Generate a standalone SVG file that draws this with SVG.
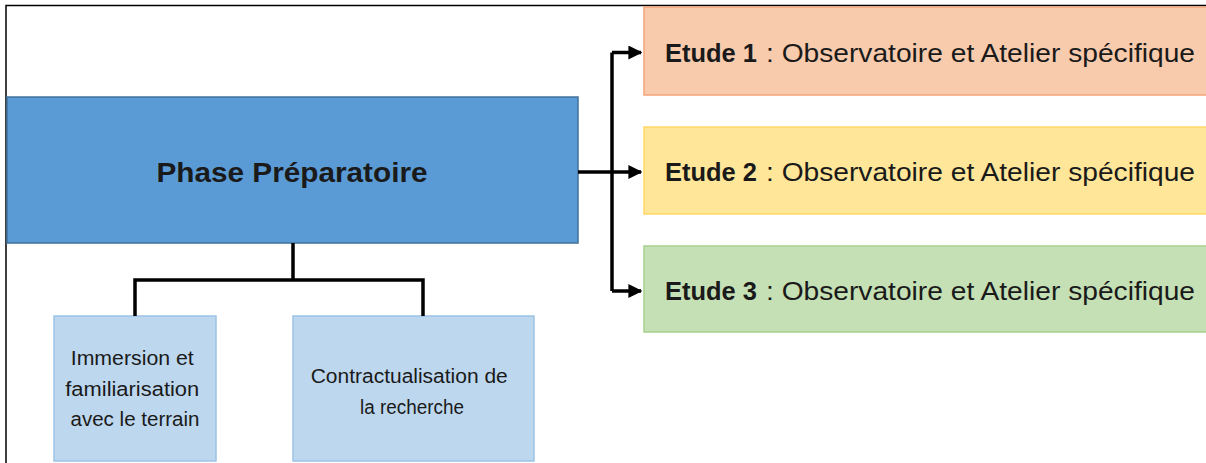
<svg xmlns="http://www.w3.org/2000/svg" width="1206" height="463" viewBox="0 0 1206 463">
<defs>
<style>
.t{font-family:"Liberation Sans",Arial,sans-serif;fill:#1a1a1a}
.b{font-weight:bold}
.conn{fill:none;stroke:#000;stroke-width:3.5}
</style>
<marker id="ah" markerWidth="4" markerHeight="4" refX="3.6" refY="2" orient="auto" markerUnits="strokeWidth">
<path d="M0,0 L4,2 L0,4 Z" fill="#000"/>
</marker>
</defs>
<rect x="0" y="0" width="1206" height="463" fill="#fff"/>
<path d="M6,463 V5.5 H1206" fill="none" stroke="#000" stroke-width="1.5"/>
<g id="phase">
<rect x="7" y="97" width="571" height="146" fill="#5B9BD5" stroke="#41719C" stroke-width="1.5"/>
<text class="t b" x="292" y="182" font-size="28" text-anchor="middle" textLength="271" lengthAdjust="spacingAndGlyphs">Phase Préparatoire</text>
</g>
<g id="etude1">
<rect x="644" y="7" width="570" height="88" fill="#F8CBAD" stroke="#F4A57A" stroke-width="1.5"/>
<text class="t b" x="665" y="62" font-size="26" textLength="92" lengthAdjust="spacingAndGlyphs">Etude 1</text>
<text class="t" x="766" y="62" font-size="26" textLength="429" lengthAdjust="spacingAndGlyphs">: Observatoire et Atelier spécifique</text>
</g>
<g id="etude2">
<rect x="644" y="127" width="570" height="87" fill="#FFE699" stroke="#FFD966" stroke-width="1.5"/>
<text class="t b" x="665" y="181" font-size="26" textLength="92" lengthAdjust="spacingAndGlyphs">Etude 2</text>
<text class="t" x="766" y="181" font-size="26" textLength="429" lengthAdjust="spacingAndGlyphs">: Observatoire et Atelier spécifique</text>
</g>
<g id="etude3">
<rect x="644" y="246" width="570" height="86" fill="#C5E0B4" stroke="#A9D18E" stroke-width="1.5"/>
<text class="t b" x="665" y="300" font-size="26" textLength="92" lengthAdjust="spacingAndGlyphs">Etude 3</text>
<text class="t" x="766" y="300" font-size="26" textLength="429" lengthAdjust="spacingAndGlyphs">: Observatoire et Atelier spécifique</text>
</g>
<g id="immersion">
<rect x="54" y="316" width="162" height="145" fill="#BDD7EE" stroke="#9DC3E6" stroke-width="1.5"/>
<text class="t" font-size="20" text-anchor="middle">
<tspan x="135" y="365" textLength="123" lengthAdjust="spacingAndGlyphs">Immersion et</tspan>
<tspan x="135" y="396" textLength="134" lengthAdjust="spacingAndGlyphs">familiarisation</tspan>
<tspan x="135" y="426" textLength="129" lengthAdjust="spacingAndGlyphs">avec le terrain</tspan>
</text>
</g>
<g id="contractualisation">
<rect x="293" y="316" width="241" height="145" fill="#BDD7EE" stroke="#9DC3E6" stroke-width="1.5"/>
<text class="t" font-size="20" text-anchor="middle">
<tspan x="412" y="383" textLength="197" lengthAdjust="spacingAndGlyphs">Contractualisation de</tspan>
<tspan x="412" y="414" textLength="104" lengthAdjust="spacingAndGlyphs">la recherche</tspan>
</text>
</g>
<g id="connectors">
<path class="conn" d="M578,172 H612"/>
<path class="conn" d="M612,52.5 V291"/>
<path class="conn" d="M612,52.5 H641" marker-end="url(#ah)"/>
<path class="conn" d="M612,172 H641" marker-end="url(#ah)"/>
<path class="conn" d="M612,291 H641" marker-end="url(#ah)"/>
<path class="conn" d="M293,243 V280"/>
<path class="conn" d="M135,316 V280 H423 V316"/>
</g>
</svg>
